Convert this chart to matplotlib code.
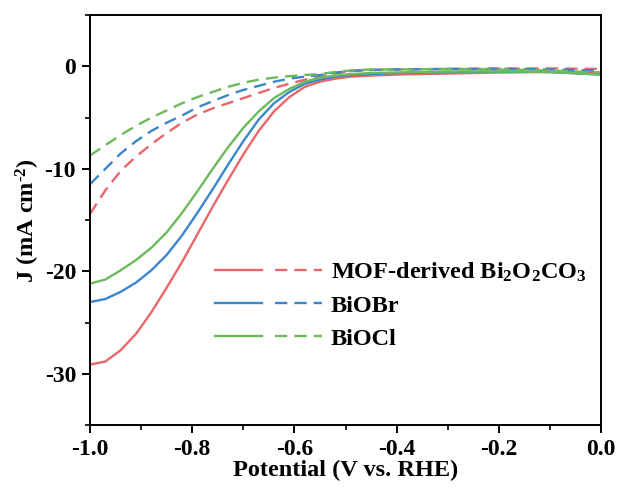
import matplotlib
matplotlib.use("Agg")
import matplotlib.pyplot as plt
from matplotlib.legend_handler import HandlerTuple
from matplotlib.ticker import MultipleLocator

plt.rcParams["font.family"] = "Liberation Serif"
plt.rcParams["font.weight"] = "bold"
plt.rcParams["mathtext.fontset"] = "custom"
plt.rcParams["mathtext.rm"] = "Liberation Serif:bold"
plt.rcParams["mathtext.it"] = "Liberation Serif:bold"
plt.rcParams["mathtext.bf"] = "Liberation Serif:bold"
plt.rcParams["mathtext.default"] = "rm"
plt.rcParams["axes.unicode_minus"] = False

# potential (V vs RHE) sample points
v = [-1.0, -0.97, -0.94, -0.91, -0.88, -0.85, -0.82, -0.79, -0.76, -0.73,
     -0.70, -0.67, -0.64, -0.61, -0.58, -0.55, -0.52, -0.49, -0.45, -0.40,
     -0.30, -0.20, -0.10, 0.0]

# solid curves (mA cm-2)
mof_solid = [-29.1, -28.8, -27.7, -26.1, -24.0, -21.6, -19.1, -16.4, -13.7, -11.1,
             -8.6, -6.3, -4.4, -3.0, -2.0, -1.5, -1.2, -1.0, -0.9, -0.8,
             -0.7, -0.6, -0.55, -0.6]
biobr_solid = [-23.0, -22.7, -22.0, -21.1, -19.9, -18.4, -16.5, -14.3, -12.0, -9.6,
               -7.3, -5.2, -3.6, -2.5, -1.7, -1.3, -1.0, -0.85, -0.75, -0.65,
               -0.55, -0.5, -0.55, -0.8]
biocl_solid = [-21.2, -20.8, -19.9, -18.9, -17.7, -16.2, -14.3, -12.2, -10.0, -7.9,
               -6.0, -4.4, -3.1, -2.2, -1.5, -1.1, -0.9, -0.75, -0.65, -0.6,
               -0.5, -0.5, -0.55, -0.8]

# dashed curves (mA cm-2)
mof_dash = [-14.4, -12.1, -10.2, -8.8, -7.6, -6.5, -5.5, -4.7, -4.1, -3.6,
            -3.1, -2.6, -2.1, -1.7, -1.3, -1.0, -0.7, -0.45, -0.35, -0.3,
            -0.25, -0.2, -0.2, -0.25]
biobr_dash = [-11.5, -10.0, -8.5, -7.3, -6.3, -5.5, -4.8, -4.0, -3.4, -2.8,
              -2.3, -1.9, -1.5, -1.2, -1.0, -0.85, -0.6, -0.45, -0.35, -0.3,
              -0.25, -0.25, -0.3, -0.4]
biocl_dash = [-8.7, -7.7, -6.7, -5.8, -5.0, -4.3, -3.6, -3.0, -2.5, -2.0,
              -1.6, -1.3, -1.1, -0.95, -0.85, -0.75, -0.55, -0.4, -0.3, -0.3,
              -0.25, -0.3, -0.4, -0.6]

labels = [r"MOF-derived Bi$_2$O$_2$CO$_3$", "BiOBr", "BiOCl"]
colors = ["#E8676A", "#3B86CC", "#6CBA5B"]

fig = plt.figure(figsize=(6.19, 4.88), dpi=100)
ax = fig.add_axes([0.1454, 0.129, 0.8256, 0.840])

handles = []
for solid, dash, c in zip([mof_solid, biobr_solid, biocl_solid],
                          [mof_dash, biobr_dash, biocl_dash], colors):
    l1, = ax.plot(v, solid, color=c, lw=1.7)
    l2, = ax.plot(v, dash, color=c, lw=1.7, dashes=(5.2, 3.0))
    handles.append((l1, l2))

ax.set_xlim(-1.0, 0.0)
ax.set_ylim(-35, 5)
ax.xaxis.set_minor_locator(MultipleLocator(0.1))
ax.yaxis.set_major_locator(MultipleLocator(10))
ax.yaxis.set_minor_locator(MultipleLocator(5))
ax.set_xticks([-1.0, -0.8, -0.6, -0.4, -0.2, 0.0])
ax.set_xticklabels(["-1.0", "-0.8", "-0.6", "-0.4", "-0.2", "0.0"])
ax.tick_params(which="major", direction="out", length=6, width=1.4,
               labelsize=17, pad=4)
ax.tick_params(which="minor", direction="out", length=3.5, width=1.2)
for s in ax.spines.values():
    s.set_linewidth(1.4)

ax.set_xlabel("Potential (V vs. RHE)", fontsize=17.5, fontweight="bold", labelpad=0)
ax.set_ylabel(r"J (mA cm$^{\text{-2}}$)", fontsize=17.5, fontweight="bold", labelpad=2)

ax.legend(handles, labels, handler_map={tuple: HandlerTuple(ndivide=None, pad=0.55)},
          handlelength=4.4, frameon=False, fontsize=17.5, loc="center left",
          bbox_to_anchor=(0.245, 0.293), borderpad=0, borderaxespad=0,
          labelspacing=0.45, handletextpad=0.35)

fig.savefig("out.png", dpi=100)
